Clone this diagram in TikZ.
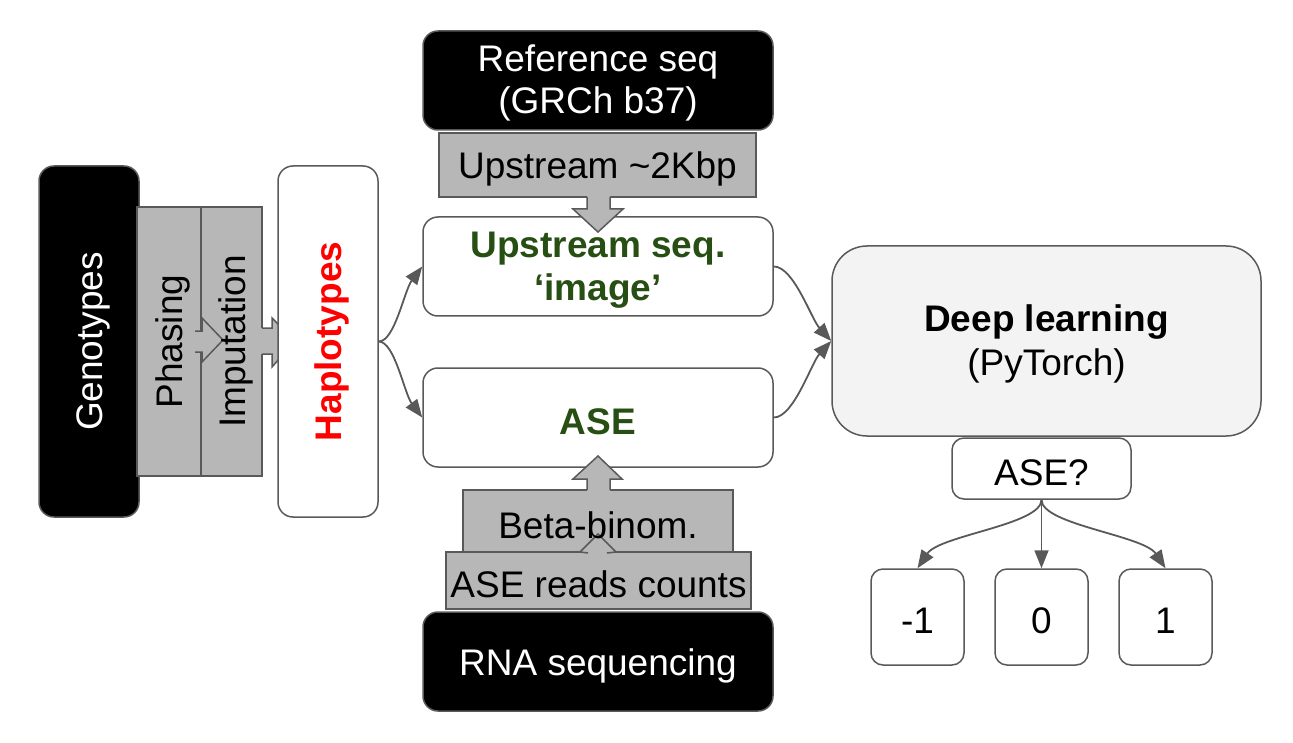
\documentclass[tikz,border=0pt]{standalone}
\usepackage{fontspec}
\setmainfont{Liberation Sans}
\usetikzlibrary{arrows.meta}
\definecolor{edge}{HTML}{595959}
\definecolor{grayfill}{HTML}{B7B7B7}
\definecolor{dkgreen}{HTML}{274E13}
\definecolor{lightfill}{HTML}{F3F3F3}
\newcommand{\lowtext}[1]{\raisebox{0pt}[\dimexpr\height+8pt\relax][\depth]{#1}}
\newcommand{\twolines}[2]{\lowtext{\begin{tabular}{@{}c@{}}#1\\#2\end{tabular}}}
\begin{document}
\begin{tikzpicture}[x=1pt,y=-1pt,
  every node/.style={font=\fontsize{37}{42}\selectfont, inner sep=0pt, align=center},
  blackbox/.style={draw=edge, fill=black, text=white, rounded corners=15pt, line width=1.5pt},
  whitebox/.style={draw=edge, fill=white, rounded corners=15pt, line width=1.5pt},
  smallbox/.style={draw=edge, fill=white, rounded corners=12pt, line width=1.5pt},
  graybox/.style={draw=edge, fill=grayfill, line width=1.5pt},
  arrowfill/.style={fill=grayfill},
  arrowline/.style={draw=edge, line width=1.5pt, line join=miter},
  conn/.style={draw=edge, line width=1.8pt, -{Triangle[length=18pt,width=14pt]}}
]
\useasboundingbox (0,0) rectangle (1293,743);

% left column
\node[blackbox, rotate=90, minimum width=351pt, minimum height=100pt] (geno) at (89,341.5) {\lowtext{Genotypes}};
\node[graybox, minimum width=64pt, minimum height=269pt] (phas) at (169,341.5) {};
\node[graybox, minimum width=61pt, minimum height=269pt] (imput) at (231.5,341.5) {};
% phasing block arrow
\fill[arrowfill] (195,331) -- (202,331) -- (202,318) -- (223,340) -- (202,362) -- (202,352) -- (195,352) -- cycle;
\draw[arrowline] (195,331) -- (202,331) -- (202,318) -- (223,340) -- (202,362) -- (202,352) -- (195,352);
% imputation block arrow
\fill[arrowfill] (255,328) -- (272,328) -- (272,318) -- (295,341) -- (272,367) -- (272,354) -- (255,354) -- cycle;
\draw[arrowline] (262,328) -- (272,328) -- (272,318) -- (295,341) -- (272,367) -- (272,354) -- (262,354);
\node[rotate=90] (phastext) at (169,341.5) {\lowtext{Phasing}};
\node[rotate=90] (imputtext) at (231.5,341.5) {\lowtext{Imputation}};

\node[whitebox, rotate=90, minimum width=351pt, minimum height=100pt, text=red, font=\fontsize{37}{42}\selectfont\bfseries] (hap) at (328,341.5) {\lowtext{Haplotypes}};

% middle column
\node[blackbox, minimum width=350pt, minimum height=99pt] (ref) at (598,80.5) {\twolines{Reference seq}{(GRCh b37)}};
\node[graybox, minimum width=317pt, minimum height=64pt] (upkb) at (597.5,165) {\lowtext{Upstream \textasciitilde2Kbp}};
\node[whitebox, minimum width=350pt, minimum height=99pt, text=dkgreen, font=\fontsize{37}{43}\selectfont\bfseries] (up) at (598,266.5) {\twolines{Upstream seq.}{‘image’}};
\fill[arrowfill] (587,190) -- (587,209) -- (573,209) -- (598,232) -- (623,209) -- (610,209) -- (610,190) -- cycle;
\draw[arrowline] (587,197) -- (587,209) -- (573,209) -- (598,232) -- (623,209) -- (610,209) -- (610,197);

\node[whitebox, minimum width=350pt, minimum height=99pt, text=dkgreen, font=\fontsize{37}{42}\selectfont\bfseries] (ase) at (598,417.5) {\lowtext{ASE}};

\node[graybox, minimum width=270pt, minimum height=62pt] (beta) at (598,521) {};
\fill[arrowfill] (587,497) -- (587,479) -- (573,479) -- (598,456) -- (622,479) -- (610,479) -- (610,497) -- cycle;
\draw[arrowline] (587,490) -- (587,479) -- (573,479) -- (598,456) -- (622,479) -- (610,479) -- (610,490);
\node[graybox, minimum width=305pt, minimum height=57pt] (reads) at (598.5,580.5) {\lowtext{ASE reads counts}};
\fill[arrowfill] (588,560) -- (588,552) -- (580,552) -- (598,534) -- (616,552) -- (607,552) -- (607,560) -- cycle;
\draw[arrowline] (588,553) -- (580,552) -- (598,534) -- (616,552) -- (607,553);
\node (betatext) at (598,521) {\lowtext{Beta-binom.}};

\node[blackbox, minimum width=350pt, minimum height=99pt] (rna) at (598,661.5) {\lowtext{RNA sequencing}};

% right column
\node[draw=edge, fill=lightfill, rounded corners=35pt, line width=1.5pt, minimum width=429pt, minimum height=190pt, font=\fontsize{37}{44}\selectfont] (deep) at (1046.5,341) {\twolines{\textbf{Deep learning}}{(PyTorch)}};
\node[smallbox, minimum width=179pt, minimum height=61pt] (q) at (1041.5,468.5) {\lowtext{ASE?}};
\node[smallbox, minimum width=93pt, minimum height=96pt] (m1) at (917.5,617) {\lowtext{-1}};
\node[smallbox, minimum width=93pt, minimum height=96pt] (z) at (1041.5,617) {\lowtext{0}};
\node[smallbox, minimum width=93pt, minimum height=96pt] (p1) at (1165.5,617) {\lowtext{1}};

% connectors
\draw[conn] (hap.south) .. controls +(16,0) and +(-18,24) .. (up.west);
\draw[conn] (hap.south) .. controls +(16,0) and +(-18,-24) .. (ase.west);
\draw[conn] (up.east) .. controls +(20,0) and +(-20,-22) .. (deep.west);
\draw[conn] (ase.east) .. controls +(20,0) and +(-20,22) .. (deep.west);
\draw[conn] (q.south) .. controls +(0,25) and +(22,-33) .. (m1.north);
\draw[conn] (q.south) -- (z.north);
\draw[conn] (q.south) .. controls +(0,25) and +(-22,-33) .. (p1.north);
\end{tikzpicture}
\end{document}
